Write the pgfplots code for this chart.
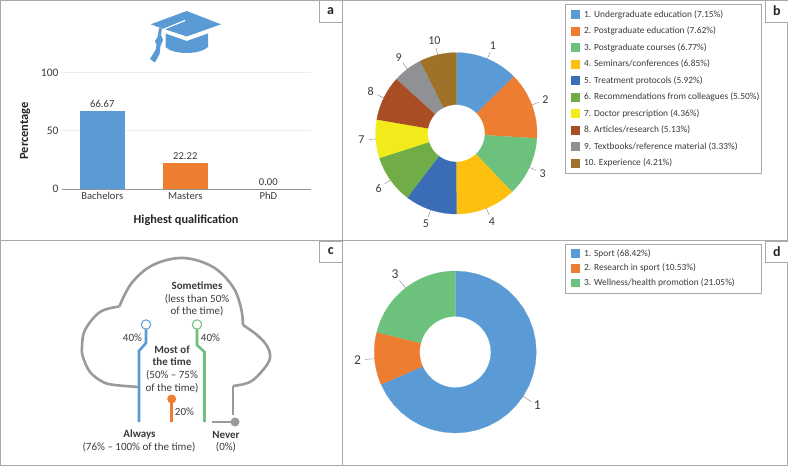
\documentclass[border=0pt]{standalone}
\usepackage{fontspec}
\setmainfont{Carlito}
\usepackage{pgfplots}
\pgfplotsset{compat=1.18}
\usepgfplotslibrary{polar}
\definecolor{c1}{HTML}{5B9BD5}
\definecolor{c2}{HTML}{ED7D31}
\definecolor{c3}{HTML}{6CC17D}
\definecolor{c4}{HTML}{FDC010}
\definecolor{c5}{HTML}{3A6DB5}
\definecolor{c6}{HTML}{70AD47}
\definecolor{c7}{HTML}{F2EA1A}
\definecolor{c8}{HTML}{A84D24}
\definecolor{c9}{HTML}{8F9194}
\definecolor{c10}{HTML}{9E7229}
\definecolor{frame}{HTML}{A9A9A9}
\definecolor{cloud}{HTML}{9A9A9E}
\definecolor{txt}{HTML}{3A3A3A}
% wedge: from-value, to-value (cumulative), total, inner radius, colour, label, label radius, font size
\newcommand\donutwedge[8]{%
  \gdef\pts{}%
  \foreach \i in {0,...,30}{\pgfmathsetmacro\t{450-(#1+(#2-#1)*\i/30)/#3*360}\xdef\pts{\pts(\t,1)}}%
  \foreach \i in {30,29,...,0}{\pgfmathsetmacro\t{450-(#1+(#2-#1)*\i/30)/#3*360}\xdef\pts{\pts(\t,#4)}}%
  \pgfmathsetmacro\mid{450-(#1+#2)/2/#3*360}%
  \pgfmathsetmacro\rl{#7-0.09}%
  \edef\tmp{\noexpand\addplot[fill=#5,draw=#5,line width=0.2pt] coordinates {\pts};
    \noexpand\draw[gray,line width=0.4pt] (axis cs:\mid,1) -- (axis cs:\mid,\rl);
    \noexpand\node[text=txt,font=\noexpand\fontsize{#8}{#8}\noexpand\selectfont] at (axis cs:\mid,#7) {#6};}\tmp}
\newcommand\legrow[3]{%
  \fill[#1] (571,#2-4.3) rectangle (579.7,#2+4.3);
  \node[anchor=west,inner sep=0pt,text=txt,font=\fontsize{9.4}{10}\selectfont] at (584,#2) {#3};}
\pgfplotsset{donut/.style={scale only axis,width=2*#1,height=2*#1,hide axis,ymin=0,ymax=1,xmin=0,xmax=360,clip=false,anchor=center}}
\begin{document}
\begin{tikzpicture}[x=1pt,y=-1pt]
\path[use as bounding box] (0,0) rectangle (788,466);
% panels
\draw[frame,line width=1pt] (0.6,0.6) rectangle (787.4,465.3);
\draw[frame,line width=1pt] (0.6,240.7) -- (787.4,240.7);
\draw[frame,line width=1pt] (342,0.6) -- (342,465.3);
% panel a
\begin{axis}[at={(62pt,-189pt)},anchor=south west,scale only axis,width=249pt,height=116.3pt,
  xmin=-0.4855,xmax=2.514,ymin=0,ymax=100,
  ybar,bar width=44.7pt,bar shift=0pt,
  axis x line*=bottom,axis y line*=left,
  y axis line style={draw=none},x axis line style={draw=gray!85,line width=0.9pt,-},
  xtick={0,1,2},xticklabels={Bachelors,Masters,PhD},ytick={0,50,100},
  major tick length=0pt,ymajorgrids,grid style={draw=black!7,line width=1pt},
  tick label style={font=\fontsize{10.6}{11}\selectfont,text=txt},
  yticklabel style={font=\fontsize{11.5}{12}\selectfont},
  /pgf/number format/assume math mode=true,
  xlabel={\textbf{Highest qualification}},ylabel={\textbf{Percentage}},
  xlabel style={font=\fontsize{12.3}{13}\selectfont,text=black!85,at={(axis description cs:0.4985,-0.297)},anchor=base},
  ylabel style={font=\fontsize{12.5}{13}\selectfont,text=black!85,at={(axis description cs:-0.148,0.5)},anchor=center},
  nodes near coords,
  nodes near coords style={font=\fontsize{10.6}{11}\selectfont,text=txt,/pgf/number format/.cd,fixed,fixed zerofill,precision=2,assume math mode=true},
  clip=false]
\addplot[fill=c1,draw=none] coordinates {(0,66.67)};
\addplot[fill=c2,draw=none] coordinates {(1,22.22)};
\addplot[fill=c9,draw=none] coordinates {(2,0.00)};
\end{axis}
% cap icon
\fill[c1] (150.7,24.3) -- (186.7,11) -- (221,24.3) -- (186.7,36.5) -- (165,29.5) -- cycle;
\draw[white,line width=1.2pt] (185,20.5) -- (163,29.5) -- (186.7,37.5) ;
\fill[c1] (165.5,33.5) -- (186.7,41) -- (208,33.5) -- (208,47) .. controls (200,55) and (173,55) .. (165.5,47) -- cycle;
\fill[c1] (159,28) -- (162,28.5) -- (161,35) -- (163,40) -- (160.5,46) -- (159.5,54) -- (155,62.5) -- (150,59) -- (155.5,50) -- (156.5,45) -- (155,41) -- (157.5,37) -- cycle;
% panel b
\begin{polaraxis}[donut=80.7pt,at={(456.3pt,-133.3pt)}]
\foreach \s/\e/\c/\n in {0/7.15/c1/1,7.15/14.77/c2/2,14.77/21.54/c3/3,21.54/28.39/c4/4,28.39/34.31/c5/5,34.31/39.81/c6/6,39.81/44.17/c7/7,44.17/49.30/c8/8,49.30/52.63/c9/9,52.63/56.84/c10/10}{%
  \donutwedge{\s}{\e}{56.84}{0.355}{\c}{\n}{1.18}{12}}
\end{polaraxis}
\draw[frame,line width=0.8pt] (565,4.3) rectangle (761.7,173.7);
\legrow{c1}{14.7}{1. Undergraduate education (7.15\%)}
\legrow{c2}{31.2}{2. Postgraduate education (7.62\%)}
\legrow{c3}{47.7}{3. Postgraduate courses (6.77\%)}
\legrow{c4}{64.2}{4. Seminars/conferences (6.85\%)}
\legrow{c5}{80.7}{5. Treatment protocols (5.92\%)}
\legrow{c6}{97.2}{6. Recommendations from colleagues (5.50\%)}
\legrow{c7}{113.7}{7. Doctor prescription (4.36\%)}
\legrow{c8}{130.2}{8. Articles/research (5.13\%)}
\legrow{c9}{146.7}{9. Textbooks/reference material (3.33\%)}
\legrow{c10}{163.2}{10. Experience (4.21\%)}
% panel c
\draw[cloud,line width=2.6pt,line join=miter] plot[smooth,tension=0.6] coordinates {(139,387)(115,385)(103,382)(90,372)(83,357)(82,347)(85,330)(100,312)(119.3,306.5)};
\draw[cloud,line width=2.6pt] plot[smooth,tension=0.6] coordinates {(119.3,306.5)(131.7,283)(153,265)(183,258)(213,267)(233,287)(241,308)(243,325)};
\draw[cloud,line width=2.6pt] plot[smooth,tension=0.6] coordinates {(243,325)(257,335)(267,346)(270,358)(263,370)(250,382)(233,386)};
\draw[cloud,line width=2.6pt] (233,386) -- (233,415);
\draw[c1,line width=2.6pt] (146,329) -- (146,343) -- (139,351) -- (139,422);
\draw[c1,line width=1pt,fill=white] (146,324.5) circle (4.7);
\draw[c3,line width=2.6pt] (197,329) -- (197,345) -- (204.5,352) -- (204.5,422);
\draw[c3,line width=1pt,fill=white] (197,324.5) circle (4.7);
\draw[c2,line width=2.6pt] (171.7,399) -- (171.7,422);
\fill[c2] (171.7,399) circle (4.5);
\draw[cloud,line width=2.6pt] (212,422) -- (235,422);
\fill[cloud] (235,422) circle (4.5);
\begin{scope}[every node/.style={font=\fontsize{11}{12}\selectfont,text=txt,inner sep=0pt}]
\node at (197,286) {\textbf{Sometimes}};
\node at (197,299) {(less than 50\%};
\node at (197,311.5) {of the time)};
\node at (132.5,337.5) {40\%};
\node at (210.5,337.5) {40\%};
\node at (172,349.5) {\textbf{Most of}};
\node at (172,362) {\textbf{the time}};
\node at (172,375) {(50\% -- 75\%};
\node at (172,388) {of the time)};
\node at (184.5,412) {20\%};
\node at (139.5,434.5) {\textbf{Always}};
\node at (139,447.5) {(76\% -- 100\% of the time)};
\node at (226,434.5) {\textbf{Never}};
\node at (226,447.5) {(0\%)};
\end{scope}
% panel d
\begin{polaraxis}[donut=81pt,at={(455.3pt,-352pt)}]
\foreach \s/\e/\c/\n in {0/68.42/c1/1,68.42/78.95/c2/2,78.95/100/c3/3}{%
  \donutwedge{\s}{\e}{100}{0.44}{\c}{\n}{1.21}{13.5}}
\end{polaraxis}
\draw[frame,line width=0.8pt] (565,244.7) rectangle (761.7,293);
\legrow{c1}{253.7}{1. Sport (68.42\%)}
\legrow{c2}{268.3}{2. Research in sport (10.53\%)}
\legrow{c3}{283}{3. Wellness/health promotion (21.05\%)}
% letter boxes
\foreach \x/\y/\l in {319.5/0.6/a,765.7/0.6/b,319.5/241/c,765.7/241/d}{
  \draw[frame,fill=white,line width=0.8pt] (\x,\y) rectangle (\x+22.5,\y+21.5);
  \node[font=\fontsize{14}{15}\selectfont\bfseries,text=black!85] at (\x+11.2,\y+10.5) {\l};}
\end{tikzpicture}
\end{document}
